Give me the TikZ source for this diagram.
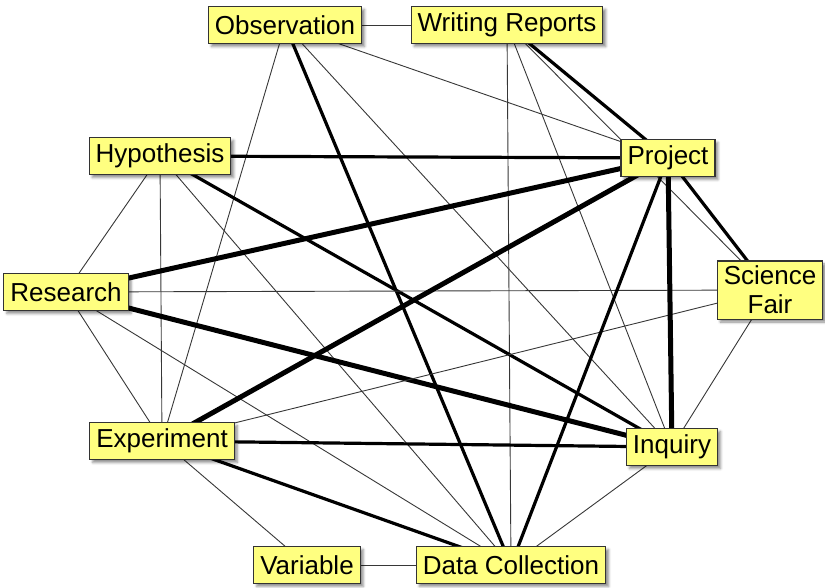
\documentclass[tikz,border=0pt]{standalone}
\usepackage{fontspec}
\setmainfont{Liberation Sans}
\usetikzlibrary{backgrounds,shadows.blur}
\definecolor{notefill}{RGB}{255,255,128}
\definecolor{thinline}{RGB}{55,55,55}

\begin{document}
\begin{tikzpicture}[x=1pt, y=-1pt,
  term/.style={rectangle, draw=black!80, fill=notefill, line width=1.1pt,
               font=\fontsize{26}{29}\selectfont, inner xsep=6.5pt, inner ysep=0pt,
               minimum height=37pt, align=center,
               blur shadow={shadow xshift=3pt, shadow yshift=-3pt,
                            shadow blur radius=2.5pt, shadow opacity=45}},
  weak/.style={draw=thinline, line width=0.9pt},
  strong/.style={draw=black, line width=3.2pt},
  heavy/.style={draw=black, line width=5pt},
]
  \useasboundingbox (0,0) rectangle (825,587);

  % Terms
  \node[term] (obs) at (285,25) {Observation};
  \node[term] (wr)  at (507,25) {Writing Reports};
  \node[term] (prj) at (668,158) {Project};
  \node[term, inner ysep=5pt] (sf) at (770,290) {Science\\Fair};
  \node[term] (inq) at (672,447) {Inquiry};
  \node[term] (dc)  at (511,565) {Data Collection};
  \node[term] (var) at (307,565) {Variable};
  \node[term] (exp) at (162,441) {Experiment};
  \node[term] (res) at (66,292) {Research};
  \node[term] (hyp) at (160,156) {Hypothesis};

  % Links
  \begin{scope}[on background layer]
    \draw[weak] (obs.center) -- (wr.center);
    \draw[weak] (obs.center) -- (prj.center);
    \draw[weak] (obs.center) -- (inq.center);
    \draw[weak] (obs.center) -- (exp.center);
    \draw[strong] (obs.center) -- (dc.center);

    \draw[strong] (wr.center) -- (prj.center);
    \draw[weak] (wr.center) -- (sf.center);
    \draw[weak] (wr.center) -- (inq.center);
    \draw[weak] (wr.center) -- (dc.center);

    \draw[strong] (hyp.center) -- (prj.center);
    \draw[strong] (hyp.center) -- (inq.center);
    \draw[weak] (hyp.center) -- (res.center);
    \draw[weak] (hyp.center) -- (exp.center);
    \draw[weak] (hyp.center) -- (dc.center);

    \draw[heavy] (res.center) -- (prj.center);
    \draw[heavy] (res.center) -- (inq.center);
    \draw[weak] (res.center) -- (sf.center);
    \draw[weak] (res.center) -- (exp.center);
    \draw[weak] (res.center) -- (dc.center);

    \draw[heavy] (exp.center) -- (prj.center);
    \draw[strong] (exp.center) -- (inq.center);
    \draw[strong] (exp.center) -- (dc.center);
    \draw[weak] (exp.center) -- (sf.center);
    \draw[weak] (exp.center) -- (var.center);

    \draw[heavy] (prj.center) -- (inq.center);
    \draw[strong] (prj.center) -- (sf.center);
    \draw[strong] (prj.center) -- (dc.center);

    \draw[weak] (inq.center) -- (sf.center);
    \draw[weak] (inq.center) -- (dc.center);
    \draw[weak] (var.center) -- (dc.center);
  \end{scope}
\end{tikzpicture}
\end{document}
